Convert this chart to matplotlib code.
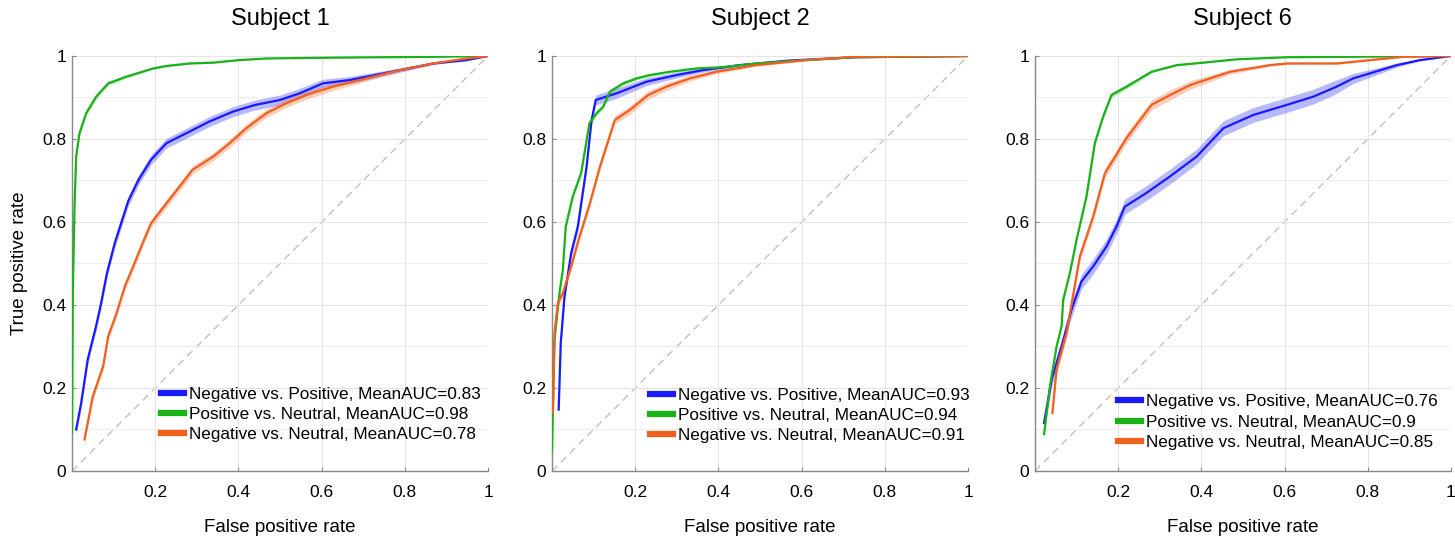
import matplotlib.pyplot as plt
import numpy as np
from matplotlib.ticker import MultipleLocator

plt.rcParams["font.family"] = ["Liberation Sans", "DejaVu Sans"]

subjects = ["Subject 1", "Subject 2", "Subject 6"]
curve_names = ["Negative vs. Positive", "Positive vs. Neutral", "Negative vs. Neutral"]
colors = ["#1a1aff", "#19b219", "#f0601e"]
mean_auc = [["0.83", "0.98", "0.78"], ["0.93", "0.94", "0.91"], ["0.76", "0.9", "0.85"]]

# Subject 1
s1_negpos_fpr = [0.01, 0.022, 0.038, 0.058, 0.07, 0.084, 0.103, 0.135, 0.159, 0.19, 0.227, 0.275,
                 0.33, 0.387, 0.44, 0.5, 0.547, 0.603, 0.667, 0.748, 0.868, 0.948, 1.0]
s1_negpos_tpr = [0.10, 0.164, 0.27, 0.35, 0.405, 0.477, 0.55, 0.65, 0.70, 0.75, 0.79, 0.814,
                 0.842, 0.866, 0.882, 0.894, 0.91, 0.934, 0.942, 0.958, 0.982, 0.99, 1.0]
s1_posneu_fpr = [0.0, 0.002, 0.006, 0.01, 0.018, 0.034, 0.058, 0.087, 0.13, 0.195, 0.227, 0.283,
                 0.34, 0.40, 0.467, 0.627, 0.868, 1.0]
s1_posneu_tpr = [0.092, 0.437, 0.637, 0.758, 0.814, 0.862, 0.902, 0.934, 0.95, 0.97, 0.976, 0.982,
                 0.984, 0.99, 0.994, 0.996, 0.998, 1.0]
s1_negneu_fpr = [0.03, 0.05, 0.075, 0.087, 0.107, 0.127, 0.147, 0.17, 0.19, 0.227, 0.259, 0.29,
                 0.34, 0.379, 0.419, 0.467, 0.515, 0.563, 0.627, 0.707, 0.788, 0.868, 0.948, 1.0]
s1_negneu_tpr = [0.076, 0.18, 0.253, 0.325, 0.38, 0.445, 0.493, 0.55, 0.597, 0.645, 0.686, 0.726,
                 0.758, 0.79, 0.826, 0.862, 0.886, 0.906, 0.926, 0.946, 0.966, 0.982, 0.994, 1.0]

# Subject 2
s2_negpos_fpr = [0.016, 0.021, 0.03, 0.046, 0.062, 0.083, 0.095, 0.105, 0.155, 0.227, 0.299,
                 0.363, 0.451, 0.571, 0.73, 1.0]
s2_negpos_tpr = [0.148, 0.309, 0.421, 0.525, 0.589, 0.733, 0.845, 0.894, 0.91, 0.938, 0.954,
                 0.966, 0.978, 0.989, 0.997, 1.0]
s2_posneu_fpr = [0.0, 0.002, 0.006, 0.018, 0.026, 0.033, 0.05, 0.07, 0.09, 0.107, 0.123, 0.139,
                 0.171, 0.203, 0.235, 0.283, 0.347, 0.41, 0.49, 0.61, 0.73, 1.0]
s2_posneu_tpr = [0.052, 0.14, 0.317, 0.43, 0.485, 0.589, 0.662, 0.718, 0.838, 0.862, 0.878, 0.914,
                 0.934, 0.946, 0.954, 0.962, 0.97, 0.973, 0.982, 0.99, 0.997, 1.0]
s2_negneu_fpr = [0.002, 0.006, 0.014, 0.026, 0.046, 0.066, 0.091, 0.115, 0.151, 0.187, 0.231,
                 0.275, 0.331, 0.395, 0.491, 0.611, 0.73, 1.0]
s2_negneu_tpr = [0.14, 0.333, 0.405, 0.429, 0.493, 0.565, 0.645, 0.733, 0.846, 0.87, 0.906,
                 0.926, 0.946, 0.962, 0.978, 0.99, 0.998, 1.0]

# Subject 6
s6_negpos_fpr = [0.022, 0.04, 0.064, 0.088, 0.112, 0.14, 0.172, 0.196, 0.216, 0.268, 0.325, 0.389,
                 0.453, 0.525, 0.605, 0.669, 0.725, 0.765, 0.805, 0.87, 0.925, 1.0]
s6_negpos_tpr = [0.116, 0.22, 0.30, 0.389, 0.457, 0.493, 0.541, 0.589, 0.637, 0.67, 0.71, 0.758,
                 0.826, 0.858, 0.882, 0.902, 0.926, 0.946, 0.958, 0.978, 0.99, 1.0]
s6_posneu_fpr = [0.022, 0.036, 0.052, 0.064, 0.068, 0.084, 0.1, 0.124, 0.144, 0.164, 0.184, 0.22,
                 0.28, 0.341, 0.405, 0.485, 0.605, 1.0]
s6_posneu_tpr = [0.089, 0.204, 0.30, 0.349, 0.413, 0.477, 0.557, 0.662, 0.79, 0.854, 0.906, 0.926,
                 0.962, 0.978, 0.984, 0.992, 0.997, 1.0]
s6_negneu_fpr = [0.042, 0.052, 0.076, 0.108, 0.14, 0.168, 0.22, 0.28, 0.325, 0.373, 0.469, 0.565,
                 0.605, 0.725, 0.805, 0.885, 1.0]
s6_negneu_tpr = [0.14, 0.245, 0.333, 0.517, 0.613, 0.717, 0.802, 0.882, 0.906, 0.93, 0.962, 0.978,
                 0.982, 0.982, 0.99, 0.998, 1.0]

# half-width of the shaded band around each mean curve
band_halfwidth = [[0.012, 0.006, 0.01], [0.012, 0.006, 0.01], [0.018, 0.006, 0.012]]

curves = [
    [(s1_negpos_fpr, s1_negpos_tpr), (s1_posneu_fpr, s1_posneu_tpr), (s1_negneu_fpr, s1_negneu_tpr)],
    [(s2_negpos_fpr, s2_negpos_tpr), (s2_posneu_fpr, s2_posneu_tpr), (s2_negneu_fpr, s2_negneu_tpr)],
    [(s6_negpos_fpr, s6_negpos_tpr), (s6_posneu_fpr, s6_posneu_tpr), (s6_negneu_fpr, s6_negneu_tpr)],
]

fig = plt.figure(figsize=(14.55, 5.4), dpi=100)
lefts = [0.0495, 0.3794, 0.7113]
legend_anchor = [(1.0, 0.053), (1.02, 0.05), (0.985, 0.035)]
axis_color = "#888888"

for k, subject in enumerate(subjects):
    ax = fig.add_axes([lefts[k], 0.1278, 0.2859, 0.7685])
    ax.plot([0, 1], [0, 1], linestyle=(0, (6, 4)), color="#bbbbbb", linewidth=0.9, zorder=1)
    for j in range(3):
        fpr = np.array(curves[k][j][0])
        tpr = np.array(curves[k][j][1])
        # band narrows as the curve approaches the top-right corner
        hw = band_halfwidth[k][j] * np.clip((1 - tpr) / 0.08, 0, 1)
        ax.fill_between(fpr, tpr - hw, np.minimum(tpr + hw, 1),
                        color=colors[j], alpha=0.3, linewidth=0, zorder=2)
        ax.plot(fpr, tpr, color=colors[j], linewidth=1.6, zorder=3,
                label=f"{curve_names[j]}, MeanAUC={mean_auc[k][j]}")

    ax.set_xlim(0, 1)
    ax.set_ylim(0, 1)
    ax.set_xticks([0.2, 0.4, 0.6, 0.8, 1.0])
    ax.set_xticklabels(["0.2", "0.4", "0.6", "0.8", "1"])
    ax.set_yticks([0, 0.2, 0.4, 0.6, 0.8, 1.0])
    ax.set_yticklabels(["0", "0.2", "0.4", "0.6", "0.8", "1"])
    ax.yaxis.set_minor_locator(MultipleLocator(0.1))
    ax.grid(which="major", color="#e4e4e4", linewidth=0.8, zorder=0)
    ax.grid(which="minor", axis="y", color="#eeeeee", linewidth=0.8, zorder=0)
    ax.tick_params(which="both", direction="in", length=3, color=axis_color, labelsize=12.5)
    ax.tick_params(axis="x", pad=10)
    ax.tick_params(axis="y", pad=4)
    ax.tick_params(which="minor", length=0)
    for side in ["top", "right"]:
        ax.spines[side].set_visible(False)
    for side in ["left", "bottom"]:
        ax.spines[side].set_color(axis_color)
        ax.spines[side].set_linewidth(1.0)

    ax.set_title(subject, fontsize=17, pad=22)
    ax.set_xlabel("False positive rate", fontsize=13.5, labelpad=14)
    if k == 0:
        ax.set_ylabel("True positive rate", fontsize=13.5, labelpad=10)

    leg = ax.legend(loc="lower right", bbox_to_anchor=legend_anchor[k], frameon=False,
                    fontsize=12.3, handlelength=1.35, handletextpad=0.3,
                    labelspacing=0.3, borderaxespad=0.0)
    for line in leg.get_lines():
        line.set_linewidth(4.5)

fig.savefig("out.png", dpi=100)
